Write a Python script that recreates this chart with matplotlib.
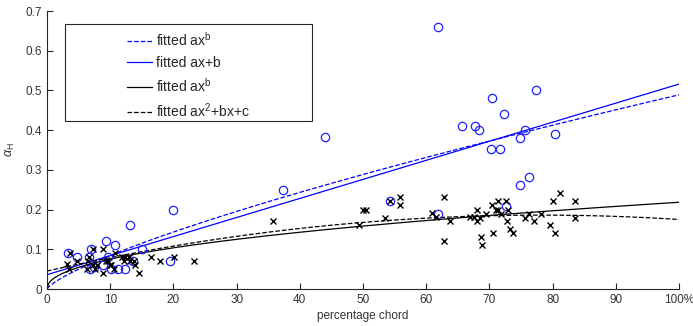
import numpy as np
import matplotlib
matplotlib.use("Agg")
import matplotlib.pyplot as plt
from matplotlib.patches import Rectangle

plt.rcParams['font.family'] = ['Liberation Sans', 'DejaVu Sans']
plt.rcParams['mathtext.fontset'] = 'custom'
plt.rcParams['mathtext.rm'] = 'Liberation Sans'
plt.rcParams['mathtext.it'] = 'Liberation Sans:italic'

# blue circles (first data set)
blue_x = [3.4, 4.7, 6.9, 6.6, 6.75, 7.4, 9.3, 10.8, 13.1, 15.0, 9.65, 8.8, 10.2, 11.2,
          12.3, 13.6, 19.4, 20.0, 37.3, 44.0, 54.3, 61.9, 61.9, 65.7, 67.8, 68.4, 70.4,
          72.3, 77.4, 70.2, 71.6, 74.9, 75.7, 80.4, 74.8, 76.2, 72.6]
blue_y = [0.091, 0.081, 0.10, 0.081, 0.05, 0.056, 0.121, 0.112, 0.161, 0.10, 0.08, 0.06,
          0.05, 0.05, 0.05, 0.07, 0.07, 0.20, 0.25, 0.383, 0.222, 0.66, 0.19, 0.411, 0.41,
          0.401, 0.482, 0.44, 0.50, 0.352, 0.352, 0.381, 0.40, 0.39, 0.261, 0.281, 0.21]

# black crosses (second data set)
black_x = [3.1, 3.6, 3.5, 4.8, 6.5, 6.7, 7.2, 7.2, 6.4, 7.6, 7.9, 8.9, 8.9, 9.3, 9.7,
           10.0, 10.2, 10.8, 10.6, 11.8, 12.4, 12.9, 12.2, 13.2, 13.8, 13.9, 14.6, 16.4,
           17.9, 20.1, 23.3, 35.8,
           49.3, 50.0, 50.5, 53.5, 54.3, 55.9, 55.9, 60.9, 61.6, 62.8, 62.8, 63.8, 66.9,
           67.6, 68.1, 68.1, 68.5, 68.7, 68.8, 69.4, 70.4, 70.5, 71.0, 71.4, 71.4, 71.8,
           72.7, 72.8, 73.0, 73.2, 73.7, 75.6, 76.3, 77.1, 78.2, 79.6, 80.1, 80.4, 81.2,
           83.5, 83.5]
black_y = [0.062, 0.091, 0.05, 0.071, 0.071, 0.081, 0.10, 0.06, 0.05, 0.05, 0.06, 0.10,
           0.04, 0.071, 0.071, 0.06, 0.06, 0.09, 0.05, 0.08, 0.08, 0.08, 0.07, 0.07, 0.07,
           0.06, 0.04, 0.08, 0.07, 0.08, 0.07, 0.171,
           0.161, 0.20, 0.20, 0.18, 0.222, 0.231, 0.211, 0.191, 0.181, 0.231, 0.122, 0.171,
           0.181, 0.181, 0.20, 0.17, 0.18, 0.131, 0.111, 0.19, 0.211, 0.141, 0.20, 0.221,
           0.20, 0.19, 0.221, 0.171, 0.20, 0.151, 0.141, 0.18, 0.19, 0.171, 0.19, 0.16,
           0.221, 0.141, 0.241, 0.221, 0.18]

# fitted curve coefficients
blue_pow = (0.01463, 0.762)        # a*x^b
blue_lin = (0.0048, 0.036)         # a*x+b
black_pow = (0.0259, 0.463)        # a*x^b
black_quad = (-2.304e-5, 0.003603, 0.0452)  # a*x^2+b*x+c

xticks = [0, 10, 20, 30, 40, 50, 60, 70, 80, 90, 100]
xtick_labels = ['0', '10', '20', '30', '40', '50', '60', '70', '80', '90', '100%']
yticks = [0, 0.1, 0.2, 0.3, 0.4, 0.5, 0.6, 0.7]
ytick_labels = ['0', '0.1', '0.2', '0.3', '0.4', '0.5', '0.6', '0.7']

fig = plt.figure(figsize=(6.93, 3.26), dpi=100)
ax = fig.add_axes([47 / 693, 37 / 326, 632 / 693, 278 / 326])

xs = np.linspace(0, 100, 400)
l1, = ax.plot(xs, blue_pow[0] * xs ** blue_pow[1], '--', color='#0000ff', lw=0.9)
l2, = ax.plot(xs, blue_lin[0] * xs + blue_lin[1], '-', color='#0000ff', lw=0.9)
l3, = ax.plot(xs, black_pow[0] * xs ** black_pow[1], '-', color='black', lw=0.9)
l4, = ax.plot(xs, np.polyval(black_quad, xs), '--', color='black', lw=0.9)

ax.plot(blue_x, blue_y, 'o', mfc='none', mec='#2020ff', ms=6, mew=0.9)
ax.plot(black_x, black_y, 'x', color='black', ms=4, mew=1.0)

ax.set_xlim(0, 100)
ax.set_ylim(0, 0.7)
ax.set_xticks(xticks)
ax.set_xticklabels(xtick_labels)
ax.set_yticks(yticks)
ax.set_yticklabels(ytick_labels)
for s in ['top', 'right']:
    ax.spines[s].set_visible(False)
for s in ['left', 'bottom']:
    ax.spines[s].set_color('#262626')
    ax.spines[s].set_linewidth(0.8)
ax.tick_params(direction='in', length=4, width=0.8, colors='#262626',
               labelsize=8.5, labelcolor='#333333')
ax.set_xlabel('percentage chord', fontsize=8.5, color='#333333', labelpad=3)
ax.set_ylabel(r'$\alpha_\mathrm{H}$', fontsize=9, color='#333333', labelpad=6)

# legend box
fig.add_artist(Rectangle((65 / 693, 1 - 121 / 326), 247 / 693, 97 / 326,
                         transform=fig.transFigure, facecolor='white',
                         edgecolor='#262626', lw=0.8))
labels = [r'fitted ax$^\mathrm{b}$', 'fitted ax+b', r'fitted ax$^\mathrm{b}$',
          r'fitted ax$^\mathrm{2}$+bx+c']
leg = fig.legend([l1, l2, l3, l4], labels, loc='upper left', frameon=False,
                 bbox_to_anchor=(127 / 693, 1 - 31 / 326), bbox_transform=fig.transFigure,
                 fontsize=10, handlelength=1.8, handletextpad=0.3,
                 labelspacing=0.5, borderpad=0, borderaxespad=0)
for t in leg.get_texts():
    t.set_color('#262626')

fig.savefig('out.png', dpi=100)
